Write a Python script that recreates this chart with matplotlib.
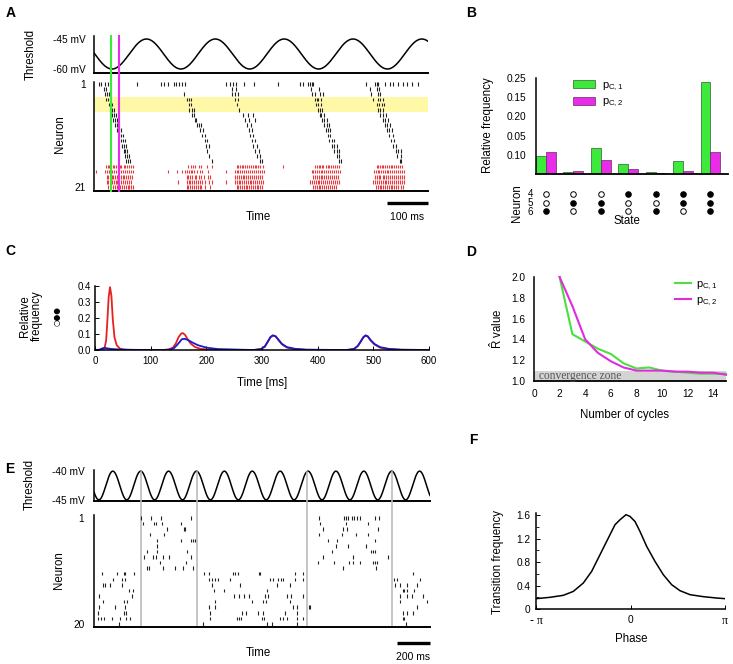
import numpy as np
import matplotlib
matplotlib.use("Agg")
import matplotlib.pyplot as plt
import matplotlib.transforms as mtransforms
from matplotlib.patches import Patch
from matplotlib.lines import Line2D

# ---------------- data ----------------
# A: spike times (ms) per neuron 1..21 (1-16 black, 17-21 red)
A_SPIKES = [
    [11, 18, 26, 33, 105, 164, 172, 180, 194, 200, 208, 215, 223, 323, 333, 338, 346, 365, 391,
     450, 503, 509, 523, 527, 531, 535, 664, 685, 690, 694, 710, 722, 730, 742, 753, 763, 775, 791],
    [24, 30, 337, 346, 529, 550, 673, 690, 696],
    [26, 31, 36, 219, 337, 343, 351, 533, 539, 551, 558, 677, 694, 699],
    [30, 34, 38, 227, 233, 237, 345, 351, 539, 543, 547, 553, 681, 694, 699, 706],
    [36, 40, 45, 231, 237, 349, 542, 547, 553, 690, 696, 702, 707],
    [40, 44, 49, 233, 239, 243, 353, 547, 551, 557, 694, 699, 706],
    [44, 49, 54, 239, 245, 363, 376, 389, 551, 555, 561, 698, 704, 712],
    [47, 52, 57, 246, 250, 368, 379, 392, 556, 561, 568, 704, 710, 718],
    [52, 57, 62, 251, 257, 262, 373, 384, 562, 568, 573, 710, 716, 722],
    [57, 62, 67, 258, 265, 377, 385, 566, 572, 577, 714, 720, 726],
    [62, 67, 71, 263, 270, 381, 389, 572, 577, 720, 729],
    [65, 70, 75, 270, 276, 385, 393, 574, 580, 585, 725, 733],
    [69, 74, 79, 273, 280, 389, 398, 580, 585, 592, 730, 738],
    [72, 76, 81, 276, 393, 402, 585, 592, 598, 737, 742, 750],
    [76, 80, 85, 281, 398, 406, 592, 598, 740, 748],
    [79, 83, 87, 288, 404, 410, 598, 603, 746, 750],
    [29, 33, 37, 41, 46, 50, 54, 58, 63, 67, 72, 76, 80, 86, 90, 95,
     230, 237, 241, 246, 255, 262, 275, 287,
     348, 352, 356, 360, 364, 368, 373, 378, 382, 387, 392, 396, 400, 405, 412, 462,
     540, 544, 548, 552, 556, 560, 565, 570, 574, 578, 583, 588, 592, 597,
     690, 694, 698, 702, 706, 710, 715, 719, 724, 728, 733, 737, 742, 747, 752],
    [6, 28, 32, 36, 40, 45, 50, 54, 58, 62, 67, 71, 76, 81, 85, 90, 95,
     181, 202, 214, 222, 227, 231, 236, 240, 245, 252, 258, 264, 278,
     323, 344, 348, 352, 357, 362, 366, 371, 376, 380, 385, 390, 395, 400, 405, 410, 416,
     531, 535, 540, 544, 548, 553, 557, 562, 566, 571, 576, 580, 585, 590, 595, 600,
     683, 688, 692, 696, 700, 705, 709, 714, 718, 723, 727, 732, 736, 741, 746, 751, 756],
    [31, 35, 39, 43, 47, 52, 56, 61, 65, 70, 74, 79, 84, 89, 93,
     226, 230, 235, 240, 246, 250, 256, 262, 268, 277, 283,
     345, 349, 354, 358, 363, 367, 372, 376, 381, 386, 391, 396, 401, 406, 411,
     535, 539, 544, 548, 553, 557, 562, 566, 571, 576, 581, 586, 590, 595,
     686, 690, 695, 699, 704, 708, 713, 718, 722, 727, 732, 737, 741, 746, 752, 756],
    [31, 35, 39, 44, 48, 53, 57, 61, 66, 70, 75, 80, 85, 90,
     205, 226, 231, 235, 240, 245, 249, 254, 259, 264, 271, 280, 287,
     323, 344, 348, 353, 357, 362, 366, 371, 375, 380, 384, 389, 394, 398, 403, 408, 413,
     527, 532, 537, 541, 546, 550, 555, 559, 564, 568, 573, 578, 583, 588, 593, 598,
     680, 686, 690, 695, 700, 704, 709, 713, 718, 722, 727, 732, 737, 742, 747, 752, 757],
    [34, 38, 42, 46, 51, 55, 59, 64, 68, 73, 77, 82, 86, 91, 95,
     226, 230, 235, 239, 244, 248, 253, 258, 262, 271, 282,
     348, 352, 356, 361, 365, 370, 374, 379, 383, 388, 392, 397, 401, 406, 411,
     535, 539, 543, 548, 552, 557, 561, 566, 571, 575, 580, 585, 590,
     688, 692, 697, 701, 706, 710, 715, 719, 724, 728, 733, 738, 743, 748, 753],
]
A_N_BLACK = 16
A_T_END = 815
A_MARK_T = [41, 61]            # green / magenta time markers
A_THETA = (-60, -45, 44, 168)  # trough, peak, first trough time, period (ms)

# B: state histogram
B_STATES = [(0, 0, 1), (0, 1, 0), (0, 1, 1), (1, 0, 0), (1, 0, 1), (1, 1, 0), (1, 1, 1)]
B_PC1 = [0.047, 0.004, 0.068, 0.027, 0.005, 0.034, 0.239]
B_PC2 = [0.058, 0.008, 0.036, 0.014, 0.002, 0.009, 0.057]
B_YTICKS = [0.05, 0.10, 0.15, 0.20, 0.25]
B_YLABELS = ["0.10", "0.05", "0.20", "0.15", "0.25"]

# C: relative frequency of state (0,1,1) over time
C_RED_T = [0, 12, 17, 20, 22, 24.5, 27, 29.5, 32, 35, 39, 45, 55, 70,
           120, 132, 140, 145, 150, 155, 158, 162, 166, 172, 180, 190, 205, 230,
           285, 298, 305, 310, 315, 320, 325, 330, 336, 345, 360, 380, 440,
           452, 465, 472, 477, 482, 486, 490, 495, 502, 512, 528, 550, 600]
C_RED_V = [0, 0, 0.01, 0.06, 0.17, 0.33, 0.395, 0.34, 0.19, 0.08, 0.03, 0.008, 0.001, 0,
           0, 0.003, 0.015, 0.04, 0.08, 0.104, 0.106, 0.094, 0.07, 0.04, 0.018, 0.007, 0.002, 0,
           0, 0.005, 0.02, 0.05, 0.08, 0.091, 0.085, 0.06, 0.035, 0.015, 0.005, 0.001, 0,
           0, 0.006, 0.025, 0.05, 0.08, 0.09, 0.085, 0.06, 0.035, 0.015, 0.005, 0.001, 0]
C_BLUE_T = [0, 8, 13, 17, 22, 30, 45, 70, 110,
            125, 135, 142, 147, 152, 156, 161, 167, 175, 185, 200, 220, 260,
            285, 298, 305, 310, 315, 319, 324, 330, 336, 345, 360, 380, 440,
            452, 465, 472, 477, 482, 486, 490, 495, 502, 512, 528, 550, 600]
C_BLUE_V = [0, 0.002, 0.01, 0.014, 0.01, 0.006, 0.003, 0.001, 0,
            0, 0.003, 0.012, 0.03, 0.05, 0.068, 0.07, 0.063, 0.047, 0.03, 0.015, 0.006, 0.002,
            0, 0.006, 0.022, 0.05, 0.08, 0.092, 0.087, 0.063, 0.038, 0.018, 0.007, 0.002, 0,
            0, 0.006, 0.025, 0.052, 0.08, 0.092, 0.086, 0.063, 0.038, 0.018, 0.007, 0.002, 0]

# D: R-hat convergence
D_CYCLES = [2, 3, 4, 5, 6, 7, 8, 9, 10, 11, 12, 13, 14, 15]
D_PC1 = [2.0, 1.45, 1.38, 1.31, 1.26, 1.17, 1.12, 1.13, 1.10, 1.09, 1.08, 1.07, 1.07, 1.07]
D_PC2 = [2.0, 1.72, 1.40, 1.27, 1.19, 1.13, 1.10, 1.10, 1.10, 1.09, 1.09, 1.08, 1.08, 1.06]

# E: spike times (ms) per neuron 1..20
E_SPIKES = [
    [285, 345, 408, 588, 1366, 1515, 1527, 1541, 1562, 1576, 1592, 1612, 1703, 1729],
    [297, 362, 378, 412, 527, 1370, 1527, 1663],
    [442, 543, 554, 1390, 1511, 1535, 1723],
    [337, 422, 1366, 1501, 1588, 1658],
    [382, 529, 590, 600, 610, 1420, 1475, 1703],
    [382, 1467, 1541, 1648],
    [321, 382, 564, 1440, 1677, 1689, 1703],
    [301, 358, 376, 416, 457, 588, 1386, 1568, 1784],
    [402, 558, 1360, 1454, 1547, 1572, 1612, 1689, 1703, 1717],
    [321, 335, 418, 489, 537, 598, 1511, 1709],
    [49, 139, 180, 190, 240, 665, 699, 840, 857, 873, 998, 1006, 1218, 1269, 1935],
    [113, 167, 186, 699, 715, 731, 752, 826, 1067, 1087, 1117, 1131, 1147, 1218, 1269,
     1818, 1838, 1976],
    [55, 65, 99, 170, 715, 883, 1111, 1188, 1824, 1854, 1895, 1955],
    [214, 238, 725, 786, 1046, 1871, 1879, 1895, 1939],
    [30, 232, 846, 877, 907, 937, 1036, 1057, 1168, 1192, 1269, 1854, 1895, 1925, 1996],
    [52, 180, 198, 735, 958, 1026, 1042, 1188, 1854, 2016],
    [28, 127, 188, 695, 735, 1208, 1228, 1300, 1310, 1955],
    [24, 180, 194, 705, 897, 921, 992, 1022, 1158, 1228, 1875, 1895, 1935],
    [26, 40, 58, 107, 157, 194, 218, 705, 867, 877, 893, 1016, 1030, 1127, 1147, 1168,
     1228, 1269, 1871, 1879],
    [153, 659, 1046, 1077, 1228, 1891],
]
E_T_END = 2036
E_SWITCH_T = [284, 622, 1293, 1804]
E_THETA = (-45, -40, 29.5, 169)

# F: transition frequency vs phase
F_PHASE = [-np.pi, -2.676, -2.233, -1.90, -1.568, -1.291, -1.014, -0.737, -0.515, -0.349,
           -0.15, -0.017, 0.15, 0.316, 0.537, 0.814, 1.091, 1.368, 1.645, 1.978, 2.421,
           2.864, np.pi]
F_FREQ = [0.176, 0.199, 0.233, 0.30, 0.443, 0.641, 0.925, 1.209, 1.435, 1.52,
          1.606, 1.577, 1.49, 1.32, 1.067, 0.811, 0.584, 0.414, 0.312, 0.244, 0.210,
          0.187, 0.176]

# ---------------- styling ----------------
plt.rcParams['font.family'] = ['Liberation Sans', 'DejaVu Sans']
plt.rcParams['mathtext.fontset'] = 'custom'
plt.rcParams['mathtext.rm'] = 'Liberation Sans'
plt.rcParams['axes.linewidth'] = 1.1

GREEN = '#3cea3c'
MAGENTA = '#ea2cea'
RED = '#e8393f'
TICK_FS = 7.3
LABEL_FS = 8.3

W, H = 733, 664
fig = plt.figure(figsize=(W / 100, H / 100), dpi=100)


def box(l, t, r, b):
    return [l / W, 1 - b / H, (r - l) / W, (b - t) / H]


def ftext(x, y, s, **kw):
    kw.setdefault('ha', 'center')
    kw.setdefault('va', 'center')
    fig.text(x / W, 1 - y / H, s, **kw)


def clean(ax):
    for side in ['top', 'right']:
        ax.spines[side].set_visible(False)
    ax.tick_params(labelsize=TICK_FS)


def threshold(t, params):
    lo, hi, t0, period = params
    return lo + (hi - lo) * 0.5 * (1 - np.cos(2 * np.pi * (t - t0) / period))


# ---------------- panel A ----------------
ax = fig.add_axes(box(94, 36, 428, 73))
clean(ax)
t = np.linspace(0, A_T_END, 800)
ax.plot(t, threshold(t, A_THETA), color='black', lw=1.1)
ax.set_xlim(0, A_T_END)
ax.set_ylim(-62, -43.5)
ax.set_xticks([])
ax.set_yticks([-45, -60])
ax.set_yticklabels(['-45 mV', '-60 mV'])
ax.tick_params(axis='y', length=0, pad=6)
ax.spines['bottom'].set_linewidth(1.4)

ax = fig.add_axes(box(94, 82, 428, 191))
clean(ax)
ax.axhspan(3.5, 6.5, color='#fff8a6', zorder=0, lw=0)
colors = ['#222222'] * A_N_BLACK + [RED] * (len(A_SPIKES) - A_N_BLACK)
ax.eventplot(A_SPIKES, lineoffsets=np.arange(1, len(A_SPIKES) + 1), linelengths=0.72,
             linewidths=0.8, colors=colors)
for xm, c in zip(A_MARK_T, [GREEN, MAGENTA]):
    ax.axvline(xm, ymin=0, ymax=1.42, color=c, lw=1.5, clip_on=False, zorder=3)
ax.set_xlim(0, A_T_END)
ax.set_ylim(21.78, 0.61)
ax.set_xticks([])
ax.set_yticks([1, 21])
ax.tick_params(axis='y', length=0, pad=6)
ax.spines['bottom'].set_linewidth(1.4)
tr = mtransforms.blended_transform_factory(ax.transData, ax.transAxes)
ax.plot([A_T_END - 100, A_T_END], [-0.11, -0.11], color='black', lw=2.4,
        transform=tr, clip_on=False, solid_capstyle='butt')
ax.text(A_T_END - 50, -0.24, '100 ms', transform=tr, ha='center', va='center', fontsize=7.5)
ftext(258, 217, 'Time', fontsize=8.3)
ftext(31, 54, 'Threshold', rotation=90, fontsize=LABEL_FS)
ftext(60, 134, 'Neuron', rotation=90, fontsize=LABEL_FS)

# ---------------- panel B ----------------
ax = fig.add_axes(box(536, 78, 728, 174))
clean(ax)
xg = np.arange(len(B_STATES))
bw = 0.36
ax.bar(xg - bw / 2, B_PC1, width=bw, color=GREEN, edgecolor='#2f5f2f', lw=0.5)
ax.bar(xg + bw / 2, B_PC2, width=bw, color=MAGENTA, edgecolor='#5f2f5f', lw=0.5)
ax.set_xlim(-0.36, 6.64)
ax.set_ylim(0, 0.25)
ax.set_xticks([])
ax.set_yticks(B_YTICKS)
ax.set_yticklabels(B_YLABELS)
ax.tick_params(axis='y', length=0, pad=7)
ax.spines['bottom'].set_linewidth(1.3)
tr = mtransforms.blended_transform_factory(ax.transData, ax.transAxes)
row_y = [-0.208, -0.302, -0.385]
for r, yy in enumerate(row_y):
    for i, st in enumerate(B_STATES):
        fc = 'black' if st[r] else 'white'
        ax.scatter([xg[i]], [yy], s=16, facecolor=fc, edgecolor='black', lw=0.7,
                   transform=tr, clip_on=False)
ftext(533, 203, '4\n5\n6', ha='right', fontsize=7, linespacing=0.88)
ftext(517, 203, 'Neuron', rotation=90, fontsize=LABEL_FS)
ftext(627, 221, 'State', fontsize=LABEL_FS)
ftext(488, 125, 'Relative frequency', rotation=90, fontsize=LABEL_FS)
handles = [Patch(facecolor=GREEN, edgecolor='#2f5f2f', lw=0.5),
           Patch(facecolor=MAGENTA, edgecolor='#5f2f5f', lw=0.5)]
fig.legend(handles, [r'$\mathregular{p_{C,1}}$', r'$\mathregular{p_{C,2}}$'],
           loc='upper left', bbox_to_anchor=(573 / W, 1 - 80 / H), frameon=False,
           fontsize=8, handlelength=2.0, handleheight=0.75, handletextpad=0.6,
           labelspacing=0.35, borderpad=0, borderaxespad=0)

# ---------------- panel C ----------------
ax = fig.add_axes(box(95, 286, 429, 350))
clean(ax)
ax.plot(C_RED_T, C_RED_V, color='#e82020', lw=1.3)
ax.plot(C_BLUE_T, C_BLUE_V, color='#1a1acc', lw=1.3)
ax.set_xlim(0, 600)
ax.set_ylim(0, 0.402)
ax.set_xticks(range(0, 601, 100))
ax.set_yticks([0, 0.1, 0.2, 0.3, 0.4])
ax.set_yticklabels(['0.0', '0.1', '0.2', '0.3', '0.4'])
ax.tick_params(direction='in', length=3, width=0.7, labelsize=7)
ax.tick_params(axis='x', pad=4)
ax.tick_params(axis='y', pad=3)
ftext(262, 383, 'Time [ms]', fontsize=LABEL_FS)
ftext(31, 316, 'Relative\nfrequency', rotation=90, fontsize=LABEL_FS, linespacing=1.0)
fig.text(57 / W, 1 - 316 / H, '\u25cb\u25cf\u25cf', rotation=90, ha='center', va='center',
         fontsize=5.5, family='DejaVu Sans')

# ---------------- panel D ----------------
ax = fig.add_axes(box(534, 277, 726, 381))
clean(ax)
ax.axhspan(1.0, 1.1, color='#d4d4d4', lw=0, zorder=0)
ax.text(0.4, 1.05, 'convergence zone', family=['Liberation Serif', 'DejaVu Serif'],
        fontsize=8.3, color='#555555', va='center', ha='left')
ax.plot(D_CYCLES, D_PC1, color='#4be03b', lw=1.5, clip_on=False)
ax.plot(D_CYCLES, D_PC2, color='#e02be0', lw=1.5, clip_on=False)
ax.set_xlim(0, 15)
ax.set_ylim(1.0, 2.0)
ax.set_xticks(range(0, 15, 2))
ax.set_yticks([1.0, 1.2, 1.4, 1.6, 1.8, 2.0])
ax.set_yticklabels(['1.0', '1.2', '1.4', '1.6', '1.8', '2.0'])
ax.tick_params(length=0, pad=6)
ax.spines['bottom'].set_linewidth(1.3)
ftext(625, 415, 'Number of cycles', fontsize=LABEL_FS)
ftext(497, 329, r'$\mathregular{\hat{R}}$ value', rotation=90, fontsize=LABEL_FS)
lh = [Line2D([], [], color='#4be03b', lw=1.5), Line2D([], [], color='#e02be0', lw=1.5)]
fig.legend(lh, [r'$\mathregular{p_{C,1}}$', r'$\mathregular{p_{C,2}}$'],
           loc='upper left', bbox_to_anchor=(675 / W, 1 - 279 / H), frameon=False,
           fontsize=8, handlelength=1.4, handletextpad=0.5, labelspacing=0.3,
           borderpad=0, borderaxespad=0)

# ---------------- panel E ----------------
ax = fig.add_axes(box(94, 470, 430, 501))
clean(ax)
t = np.linspace(0, E_T_END, 1500)
ax.plot(t, threshold(t, E_THETA), color='black', lw=1.1)
ax.set_xlim(0, E_T_END)
ax.set_ylim(-45.2, -39.8)
ax.set_xticks([])
ax.set_yticks([-40, -45])
ax.set_yticklabels(['-40 mV', '-45 mV'])
ax.tick_params(axis='y', length=0, pad=7)
ax.spines['bottom'].set_linewidth(1.4)

ax = fig.add_axes(box(94, 515, 430, 627))
clean(ax)
ax.eventplot(E_SPIKES, lineoffsets=np.arange(1, len(E_SPIKES) + 1), linelengths=0.62,
             linewidths=0.8, colors='#222222')
for xs in E_SWITCH_T:
    ax.axvline(xs, ymin=0, ymax=1.385, color='#bbbbbb', lw=1.2, clip_on=False, zorder=0)
ax.set_xlim(0, E_T_END)
ax.set_ylim(20.55, 0.46)
ax.set_xticks([])
ax.set_yticks([1, 20])
ax.tick_params(axis='y', length=0, pad=7)
ax.spines['bottom'].set_linewidth(1.4)
tr = mtransforms.blended_transform_factory(ax.transData, ax.transAxes)
ax.plot([E_T_END - 200, E_T_END], [-0.143, -0.143], color='black', lw=2.4,
        transform=tr, clip_on=False, solid_capstyle='butt')
ax.text(E_T_END - 100, -0.27, '200 ms', transform=tr, ha='center', va='center', fontsize=7.5)
ftext(258, 653, 'Time', fontsize=8.3)
ftext(30, 484, 'Threshold', rotation=90, fontsize=LABEL_FS)
ftext(59, 570, 'Neuron', rotation=90, fontsize=LABEL_FS)

# ---------------- panel F ----------------
ax = fig.add_axes(box(536, 513, 725, 609))
clean(ax)
ax.plot(F_PHASE, F_FREQ, color='black', lw=1.1)
ax.set_xlim(-np.pi, np.pi)
ax.set_ylim(0, 1.635)
ax.set_xticks([-np.pi, 0, np.pi])
ax.set_xticklabels(['- \u03c0', '0', '\u03c0'])
for i in (0, 2):
    ax.get_xticklabels()[i].set_family(['Liberation Serif', 'DejaVu Serif'])
    ax.get_xticklabels()[i].set_fontsize(8.5)
ax.set_yticks([0, 0.4, 0.8, 1.2, 1.6])
ax.set_yticklabels(['0', '0.4', '0.8', '1.2', '1.6'])
ax.set_yticks(np.arange(0, 1.61, 0.2), minor=True)
ax.tick_params(direction='in', length=3, width=0.7, pad=4)
ax.tick_params(which='minor', direction='in', length=2, width=0.6)
ftext(631, 639, 'Phase', fontsize=LABEL_FS)
ftext(498, 562, 'Transition frequency', rotation=90, fontsize=LABEL_FS)

# ---------------- panel letters ----------------
for lab, (x, y) in zip('ABCDEF', [(11, 13), (471, 13), (10, 251), (471, 252), (10, 469), (473, 440)]):
    ftext(x, y, lab, fontsize=10, fontweight='bold')

fig.savefig('out.png', dpi=100)
